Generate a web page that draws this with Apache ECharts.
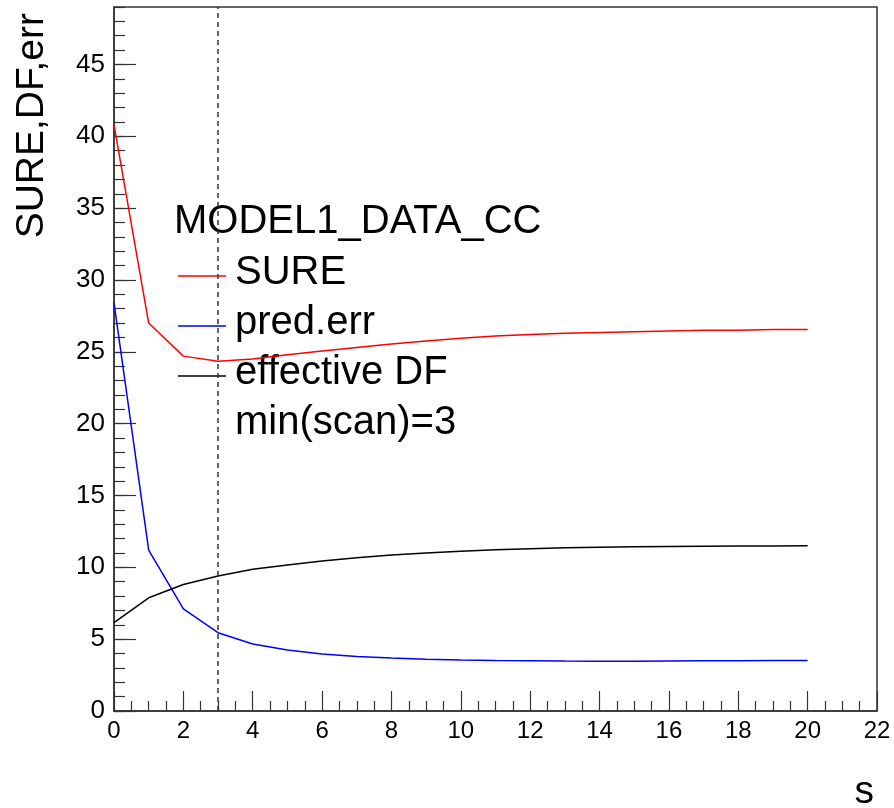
<!DOCTYPE html>
<html>
<head>
<meta charset="utf-8">
<title>SURE scan</title>
<script src="https://cdn.jsdelivr.net/npm/echarts@6/dist/echarts.min.js"></script>
<style>
  html, body { margin: 0; padding: 0; background: #fff; }
  #chart { width: 894px; height: 808px; }
</style>
</head>
<body>
<div id="chart"></div>
<script>
// scan parameter s
const sValues = [0, 1, 2, 3, 4, 5, 6, 7, 8, 9, 10, 11, 12, 13, 14, 15, 16, 17, 18, 19, 20];
// SURE estimate per s
const sure = [40.8, 27.0, 24.7, 24.35, 24.5, 24.8, 25.05, 25.3, 25.55, 25.75, 25.95, 26.1, 26.2, 26.3, 26.35, 26.4, 26.45, 26.5, 26.5, 26.55, 26.55];
// prediction error per s
const predErr = [28.4, 11.2, 7.1, 5.45, 4.66, 4.24, 3.97, 3.8, 3.69, 3.6, 3.55, 3.52, 3.5, 3.48, 3.47, 3.47, 3.48, 3.49, 3.5, 3.51, 3.52];
// effective degrees of freedom per s
const effDF = [6.15, 7.88, 8.8, 9.39, 9.86, 10.16, 10.44, 10.67, 10.85, 11.0, 11.12, 11.22, 11.3, 11.36, 11.4, 11.43, 11.45, 11.47, 11.48, 11.49, 11.5];
// s at the SURE minimum
const minScan = 3;

const legendTitle = 'MODEL1_DATA_CC';
const seriesNames = ['SURE', 'pred.err', 'effective DF'];
const seriesColors = ['#ff0000', '#0000ff', '#000000'];

const FONT = '"Liberation Sans", Arial, Helvetica, sans-serif';

const pairs = (ys) => sValues.map((s, i) => [s, ys[i]]);

const chart = echarts.init(document.getElementById('chart'), null, { renderer: 'canvas' });

const grid = { left: 114, right: 17, top: 7, bottom: 97, show: true, borderColor: '#333', borderWidth: 1.5, backgroundColor: 'transparent' };

const legendRows = [273, 323, 373];

const graphics = [
  { type: 'text', x: 174, y: 222,
    style: { text: legendTitle, font: '40px ' + FONT, fill: '#000', textAlign: 'left', textVerticalAlign: 'middle' } }
];
seriesNames.forEach((name, i) => {
  graphics.push({ type: 'line', shape: { x1: 178, y1: legendRows[i] + 3, x2: 226, y2: legendRows[i] + 3 },
    style: { stroke: seriesColors[i], lineWidth: 1.5 } });
  graphics.push({ type: 'text', x: 235, y: legendRows[i],
    style: { text: name, font: '40px ' + FONT, fill: '#000', textAlign: 'left', textVerticalAlign: 'middle' } });
});
graphics.push({ type: 'text', x: 235, y: 423,
  style: { text: 'min(scan)=' + minScan, font: '40px ' + FONT, fill: '#000', textAlign: 'left', textVerticalAlign: 'middle' } });
// axis titles
graphics.push({ type: 'text', x: 32, y: 13, rotation: Math.PI / 2,
  style: { text: 'SURE,DF,err', font: '39px ' + FONT, fill: '#000', textAlign: 'right', textVerticalAlign: 'middle' } });
graphics.push({ type: 'text', x: 874, y: 792,
  style: { text: 's', font: '39px ' + FONT, fill: '#000', textAlign: 'right', textVerticalAlign: 'middle' } });

const option = {
  animation: false,
  backgroundColor: '#fff',
  grid: grid,
  xAxis: {
    type: 'value', min: 0, max: 22, interval: 2,
    axisLine: { show: true, onZero: false, lineStyle: { color: '#333', width: 1.5 } },
    axisTick: { show: true, inside: true, length: 20, lineStyle: { color: '#333', width: 1.2 } },
    minorTick: { show: true, splitNumber: 4, length: 10, lineStyle: { color: '#333', width: 1.2 } },
    splitLine: { show: false },
    axisLabel: { color: '#000', fontSize: 24, fontFamily: FONT, margin: 8 }
  },
  yAxis: [
    {
      type: 'value', min: 0, max: 49, interval: 5,
      axisLine: { show: true, onZero: false, lineStyle: { color: '#333', width: 1.5 } },
      axisTick: { show: true, inside: true, length: 22, lineStyle: { color: '#333', width: 1.2 } },
      splitLine: { show: false },
      axisLabel: { color: '#000', fontSize: 26, fontFamily: FONT, margin: 9, padding: [6, 0, 0, 0], showMaxLabel: false,
        formatter: (v) => (v % 5 === 0 ? String(v) : '') }
    },
    {
      type: 'value', min: 0, max: 49, interval: 1, position: 'left',
      axisLine: { show: false },
      axisTick: { show: true, inside: true, length: 11, lineStyle: { color: '#333', width: 1.2 } },
      splitLine: { show: false },
      axisLabel: { show: false }
    }
  ],
  series: [
    { name: seriesNames[0], type: 'line', data: pairs(sure), showSymbol: false,
      lineStyle: { color: seriesColors[0], width: 1.5 }, itemStyle: { color: seriesColors[0] },
      markLine: { silent: true, symbol: 'none', label: { show: false },
        lineStyle: { color: '#333', width: 1.5, type: [5, 4] },
        data: [{ xAxis: minScan }] } },
    { name: seriesNames[1], type: 'line', data: pairs(predErr), showSymbol: false,
      lineStyle: { color: seriesColors[1], width: 1.5 }, itemStyle: { color: seriesColors[1] } },
    { name: seriesNames[2], type: 'line', data: pairs(effDF), showSymbol: false,
      lineStyle: { color: seriesColors[2], width: 1.5 }, itemStyle: { color: seriesColors[2] } }
  ],
  graphic: graphics
};

chart.setOption(option);
</script>
</body>
</html>
